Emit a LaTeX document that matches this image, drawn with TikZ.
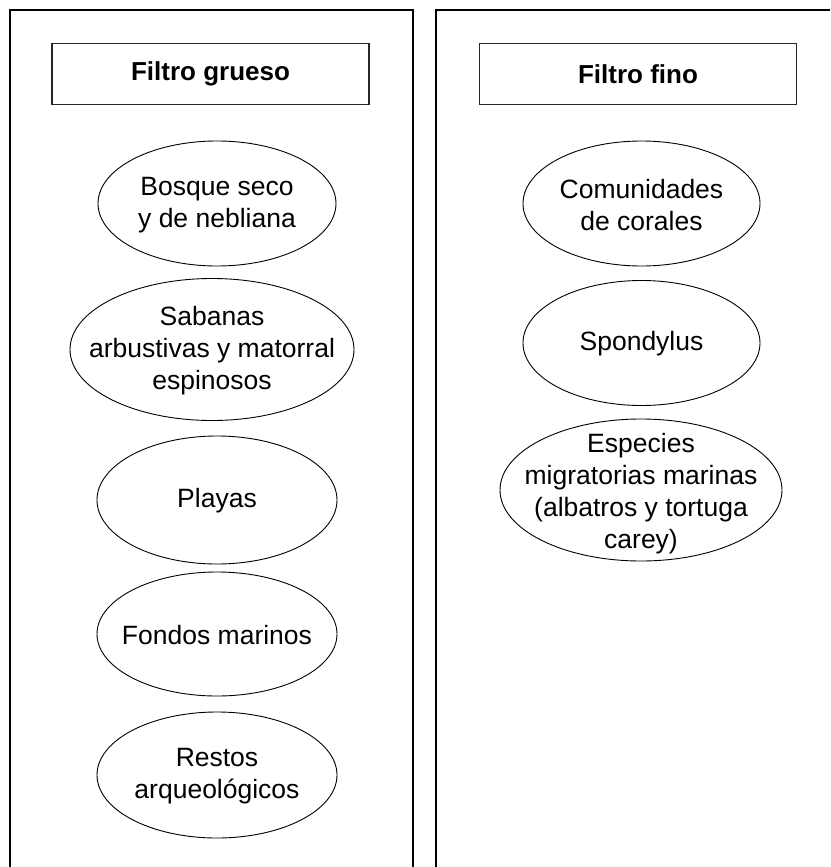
\documentclass[tikz,border=0pt]{standalone}
\usepackage{fontspec}
\setmainfont{Liberation Sans}
\begin{document}
\begin{tikzpicture}[x=1pt,y=-1pt,
  txt/.style={font=\fontsize{26.5}{32}\selectfont, align=center, text=black, inner sep=0pt},
  frame/.style={draw=black, line width=1.4pt},
  titlebox/.style={txt, draw=black!85, line width=1.2pt, rectangle, minimum width=317pt, minimum height=61pt, inner sep=0pt, font=\fontsize{26}{31}\selectfont\bfseries},
  oval/.style={draw=black, line width=0.9pt}]
\useasboundingbox (0,0) rectangle (830,867);
% panels
\coordinate (lbl) at (10,867);
\coordinate (ltl) at (10,10);
\coordinate (ltr) at (413,10);
\coordinate (lbr) at (413,867);
\draw[frame] (lbl) -- (ltl) -- (ltr) -- (lbr);
\coordinate (rbl) at (436,867);
\coordinate (rtl) at (436,10);
\coordinate (rtr) at (830,10);
\draw[frame] (rbl) -- (rtl) -- (rtr);
% titles
\node[titlebox] (tg) at (210.5,74) {Filtro grueso};
\node[titlebox] (tf) at (638,74) {Filtro fino};
% left column
\node[txt] (bosque) at (217,205) {Bosque seco\\y de nebliana};
\draw[oval] (bosque.center) ++(0,-1.5) ellipse [x radius=119, y radius=62.5];
\node[txt] (sabanas) at (212,351) {Sabanas\\arbustivas y matorral\\espinosos};
\draw[oval] (sabanas.center) ++(0,-1.5) ellipse [x radius=142, y radius=71];
\node[txt] (playas) at (217,501) {Playas};
\draw[oval] (playas.center) ++(0,-1) ellipse [x radius=120, y radius=64];
\node[txt] (fondos) at (217,635) {Fondos marinos};
\draw[oval] (fondos.center) ++(0,-1) ellipse [x radius=120, y radius=62];
\node[txt] (restos) at (217,776) {Restos\\arqueológicos};
\draw[oval] (restos.center) ++(0,-1) ellipse [x radius=120, y radius=63];
% right column
\node[txt] (corales) at (641.5,205) {Comunidades\\de corales};
\draw[oval] (corales.center) ++(0,-1.5) ellipse [x radius=118.5, y radius=62.5];
\node[txt] (spond) at (641.5,344) {Spondylus};
\draw[oval] (spond.center) ++(0,-1) ellipse [x radius=118.5, y radius=62.5];
\node[txt] (especies) at (641,494) {Especies\\migratorias marinas\\(albatros y tortuga\\carey)};
\draw[oval] (especies.center) ++(0,-4) ellipse [x radius=141, y radius=71];
\end{tikzpicture}
\end{document}
